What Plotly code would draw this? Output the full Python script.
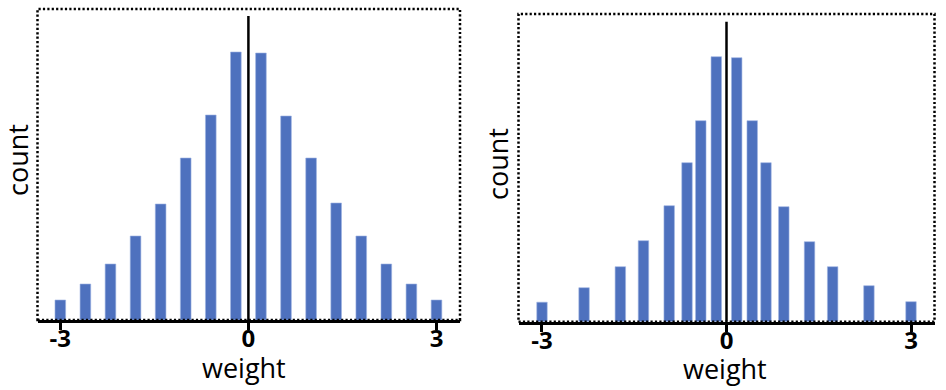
import plotly.graph_objects as go

# Left panel: uniformly spaced weight bins
left_weights = [-3.0, -2.6, -2.2, -1.8, -1.4, -1.0, -0.6, -0.2, 0.2, 0.6, 1.0, 1.4, 1.8, 2.2, 2.6, 3.0]
left_counts = [20, 36, 56, 84, 116, 162, 205, 268, 267, 204, 162, 117, 84, 56, 36, 20]

# Right panel: non-uniformly spaced weight bins
right_weights = [-3.0, -2.316, -1.726, -1.35, -0.932, -0.642, -0.418, -0.166,
                 0.166, 0.418, 0.642, 0.932, 1.35, 1.726, 2.316, 3.0]
right_counts = [19.5, 34, 55, 81, 116, 159, 201, 265, 264, 201, 159, 115, 80, 55, 36, 20]

tick_vals = [-3, 0, 3]
tick_text = ["-3", "0", "3"]
x_title = "weight"
y_title = "count"

W, H = 946, 390
BAR = "#4E71BE"
FONT = "Open Sans, Noto Sans, sans-serif"

fig = go.Figure()
fig.add_trace(go.Bar(x=left_weights, y=left_counts, width=0.17,
                     marker=dict(color=BAR, line=dict(color="#9DB3E2", width=0.6)),
                     xaxis="x", yaxis="y", showlegend=False))
fig.add_trace(go.Bar(x=right_weights, y=right_counts, width=0.17,
                     marker=dict(color=BAR, line=dict(color="#9DB3E2", width=0.6)),
                     xaxis="x2", yaxis="y2", showlegend=False))

xcommon = dict(showgrid=False, zeroline=False, showline=True, linecolor="black",
               linewidth=3, ticks="outside", ticklen=7, tickwidth=2.5, tickcolor="black",
               tickvals=tick_vals, ticktext=tick_text, ticklabelstandoff=-12,
               tickfont=dict(family=FONT, size=24, color="black", weight="bold"))
ycommon = dict(showgrid=False, zeroline=False, showline=False, showticklabels=False, ticks="")

fig.update_layout(
    width=W, height=H, margin=dict(l=0, r=0, t=0, b=0),
    paper_bgcolor="white", plot_bgcolor="white",
    xaxis=dict(domain=[37.5 / W, 460 / W], range=[-3.364, 3.375], anchor="y", **xcommon),
    yaxis=dict(domain=[1 - 320 / H, 1 - 9 / H], range=[0, 311], anchor="x", **ycommon),
    xaxis2=dict(domain=[518.5 / W, 934.5 / W], range=[-3.382, 3.382], anchor="y2", **xcommon),
    yaxis2=dict(domain=[1 - 321.7 / H, 1 - 14 / H], range=[0, 307.7], anchor="x2", **ycommon),
)

# dotted frames
for xr, yr in [("x domain", "y domain"), ("x2 domain", "y2 domain")]:
    fig.add_shape(type="rect", xref=xr, yref=yr, x0=0, x1=1, y0=0, y1=1,
                  line=dict(color="black", width=2.5, dash="2.2px,2.2px"), layer="above")

# vertical zero lines
fig.add_shape(type="line", xref="x", yref="y", x0=0, x1=0, y0=0, y1=304,
              line=dict(color="black", width=2.5))
fig.add_shape(type="line", xref="x2", yref="y2", x0=0, x1=0, y0=0, y1=300,
              line=dict(color="black", width=2.5))

tfont = dict(family=FONT, size=27, color="black")
fig.add_annotation(text=x_title, xref="paper", yref="paper", x=244 / W, y=1 - 367 / H,
                   xanchor="center", yanchor="middle", showarrow=False, font=tfont)
fig.add_annotation(text=x_title, xref="paper", yref="paper", x=724.5 / W, y=1 - 368 / H,
                   xanchor="center", yanchor="middle", showarrow=False, font=tfont)
fig.add_annotation(text=y_title, xref="paper", yref="paper", x=17 / W, y=1 - 160 / H,
                   xanchor="center", yanchor="middle", showarrow=False, font=tfont, textangle=-90)
fig.add_annotation(text=y_title, xref="paper", yref="paper", x=497 / W, y=1 - 164 / H,
                   xanchor="center", yanchor="middle", showarrow=False, font=tfont, textangle=-90)

fig.write_html("out.html", config={"displayModeBar": False},
               post_script="document.body.style.margin='0';document.body.style.overflow='hidden';")
